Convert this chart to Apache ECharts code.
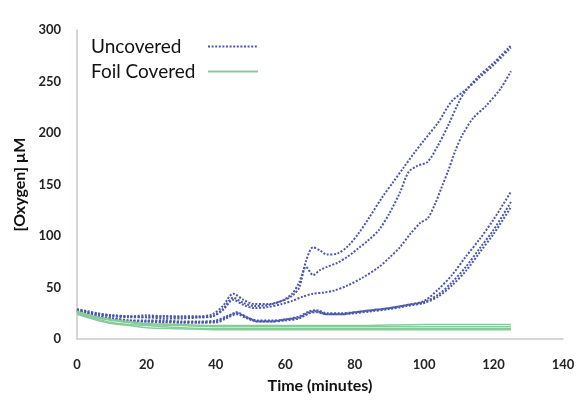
<!DOCTYPE html>
<html><head><meta charset="utf-8">
<script src="https://cdn.jsdelivr.net/npm/echarts@6/dist/echarts.min.js"></script>
<style>html,body{margin:0;padding:0;background:#fff}#c{width:576px;height:401px}</style>
</head><body><div id="c"></div>
<script>
// Uncovered runs: [time (min), oxygen (µM)]
const uncoveredA = [[0,29],[3,27],[6,25],[10,23],[15,22],[20,23],[25,22],[30,22],[35,22],[39,24],[42,32],[45,44],[48,38],[51,34],[55,34],[59,37],[62,42],[64,50],[66,76],[68,89],[70,86],[72,82],[75,83],[78,90],[81,102],[84,117],[88,138],[91,152],[94,166],[97,180],[100,193],[104,210],[108,231],[112,242],[116,256],[120,268],[125,285]];
const uncoveredB = [[0,28],[3,26],[6,24],[10,23],[15,22],[20,21],[25,22],[30,21],[35,21],[39,22],[42,29],[45,40],[48,35],[51,32],[55,33],[59,37],[62,44],[64,55],[66,70],[68,62],[70,67],[72,70],[75,74],[78,80],[81,88],[84,96],[87,106],[90,122],[93,142],[95.5,162],[98,168],[101,172],[104,188],[107,208],[110,230],[112,241],[116,254],[120,266],[125,283]];
const uncoveredC = [[0,28],[3,26],[6,24],[10,22],[15,21],[20,21],[25,20],[30,20],[35,21],[39,22],[42,28],[45,38],[48,33],[51,30],[55,31],[59,34],[62,37],[65,41],[68,44],[71,45],[74,47],[78,52],[82,59],[87,70],[90,79],[93,89],[96,102],[99,113],[101,117],[103,130],[105,147],[107,164],[109,183],[111,198],[114,214],[118,227],[122,243],[125,260]];
const uncoveredD = [[0,28],[3,25],[6,22],[10,20],[15,18],[20,17],[25,17],[30,16],[35,16],[40,17],[43,21],[46,26],[49,21],[52,17],[56,17],[60,19],[64,21],[67,26],[69,27],[72,24],[76,24],[80,26],[85,28],[90,30],[95,33],[100,37],[104,48],[108,62],[112,80],[116,97],[120,116],[125,143]];
const uncoveredE = [[0,27],[3,24],[6,22],[10,20],[15,18],[20,18],[25,18],[30,17],[35,17],[40,18],[43,22],[46,25],[49,21],[52,18],[56,18],[60,19],[64,22],[67,27],[69,28],[72,25],[76,25],[80,26],[85,28],[90,30],[95,33],[100,36],[104,43],[108,55],[112,70],[116,88],[120,106],[125,133]];
const uncoveredF = [[0,27],[3,24],[6,21],[10,19],[15,17],[20,17],[25,16],[30,16],[35,16],[40,16],[43,20],[46,24],[49,20],[52,17],[56,17],[60,18],[64,20],[67,25],[69,26],[72,24],[76,24],[80,25],[85,27],[90,29],[95,32],[100,35],[104,41],[108,52],[112,66],[116,84],[120,102],[125,128]];
// Foil covered runs
const foilA = [[0,27],[5,22],[10,19],[15,17],[20,15],[30,14],[40,13],[60,13],[80,13],[100,14],[125,14]];
const foilB = [[0,26],[5,21],[10,18],[15,16],[20,14],[30,13],[40,12],[60,12],[80,12],[100,12],[125,12]];
const foilC = [[0,25],[5,20],[10,16],[15,14],[20,13],[30,11],[40,10],[60,10],[80,10],[100,10],[125,10]];
const foilD = [[0,24],[5,19],[10,15],[15,13],[20,11],[30,10],[40,9],[60,9],[80,9],[100,9],[125,9]];

const seriesNames = ['Uncovered', 'Foil Covered'];
const xTicks = [0, 140, 20];
const yTicks = [0, 300, 50];

const FONT = 'Lato';
const blue = '#4a57aa';
const green = '#86cc9a';

const uncovered = [uncoveredA, uncoveredB, uncoveredC, uncoveredD, uncoveredE, uncoveredF];
const foil = [foilA, foilB, foilC, foilD];

const series = [];
uncovered.forEach(d => series.push({
  name: seriesNames[0], type: 'line', data: d, smooth: 0.3, symbol: 'none',
  lineStyle: { color: blue, width: 2, type: [2, 1.6] }, itemStyle: { color: blue }
}));
foil.forEach(d => series.push({
  name: seriesNames[1], type: 'line', data: d, smooth: 0.3, symbol: 'none',
  lineStyle: { color: green, width: 1.5 }, itemStyle: { color: green }
}));

const chart = echarts.init(document.getElementById('c'), null, { renderer: 'canvas' });
chart.setOption({
  animation: false,
  backgroundColor: '#fff',
  textStyle: { fontFamily: FONT },
  grid: { left: 77, right: 13, top: 30, bottom: 62, outerBoundsMode: 'none' },
  legend: {
    orient: 'vertical', left: 86, top: 32, align: 'right', itemGap: 6,
    itemWidth: 50, itemHeight: 12,
    data: seriesNames,
    itemStyle: { color: 'rgba(0,0,0,0)', borderWidth: 0 },
    formatter: n => '{a|' + n + '}',
    textStyle: { fontFamily: FONT, fontSize: 19, color: '#111',
      rich: { a: { fontFamily: FONT, fontSize: 19, color: '#111', width: 112, align: 'left' } } }
  },
  xAxis: {
    type: 'value', min: xTicks[0], max: xTicks[1], interval: xTicks[2],
    name: 'Time (minutes)', nameLocation: 'middle', nameGap: 39,
    nameTextStyle: { fontFamily: FONT, fontSize: 16, fontWeight: 'bold', color: '#111' },
    axisLine: { lineStyle: { color: '#cfc6c6', width: 1.5 } },
    axisTick: { show: false }, splitLine: { show: false },
    axisLabel: { fontFamily: FONT, fontSize: 13, fontWeight: 'bold', color: '#222', margin: 19 }
  },
  yAxis: {
    type: 'value', min: yTicks[0], max: yTicks[1], interval: yTicks[2],
    name: '[Oxygen] µM', nameLocation: 'middle', nameGap: 41, nameRotate: 90,
    nameTextStyle: { fontFamily: FONT, fontSize: 16, fontWeight: 'bold', color: '#111' },
    axisLine: { show: true, lineStyle: { color: '#cfc6c6', width: 1.5 } },
    axisTick: { show: false }, splitLine: { show: false },
    axisLabel: { fontFamily: FONT, fontSize: 13, fontWeight: 'bold', color: '#222', margin: 16 }
  },
  series: series
});
</script></body></html>
